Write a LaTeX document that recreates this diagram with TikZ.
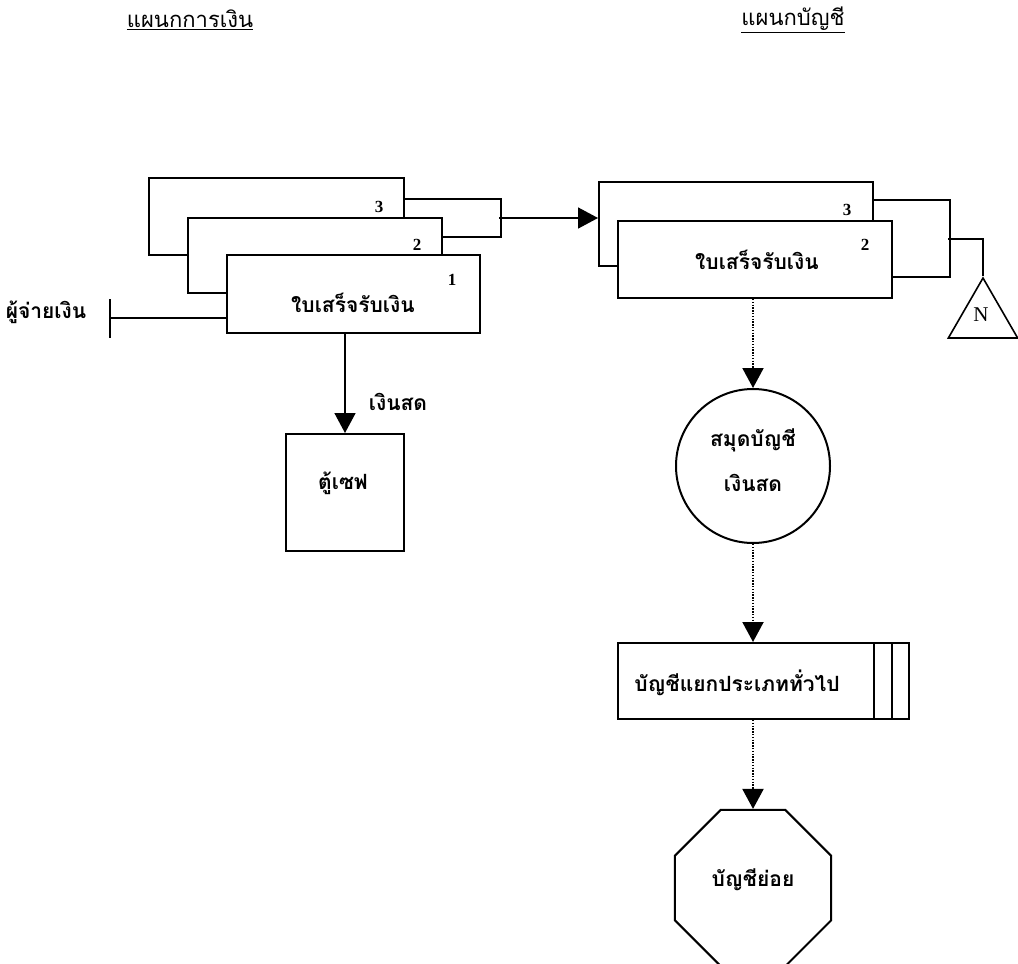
\documentclass[tikz,border=0pt]{standalone}
\usepackage{fontspec}
\newfontfamily\thaifont[Script=Thai]{Loma}
\newfontfamily\latinfont{Liberation Serif}
\usetikzlibrary{shapes.geometric, arrows.meta}

\tikzset{
  doc/.style={draw, line width=2pt, fill=white, inner sep=0pt, anchor=north west},
  num/.style={font=\latinfont\bfseries\fontsize{17}{17}\selectfont},
  txt/.style={font=\thaifont\bfseries\fontsize{21}{24}\selectfont},
  head/.style={font=\thaifont\fontsize{22}{24}\selectfont},
  wire/.style={line width=1.6pt},
  flow/.style={line width=1.6pt, -{Triangle[width=21pt,length=20pt]}},
  dflow/.style={line width=2pt, dash pattern=on 1.4pt off 1.4pt, -{Triangle[width=21pt,length=20pt]}}
}

\begin{document}
\begin{tikzpicture}[x=1pt,y=-1pt]
\useasboundingbox (0,0) rectangle (1018,964);

\node[head] (hfin) at (190,20) {\underline{แผนกการเงิน}};
\node[head] (hacc) at (793,20) {\underline{แผนกบัญชี}};

% finance copies
\node[doc, minimum width=255pt, minimum height=77pt] (ld3) at (148,177) {};
\node[num] (ln3) at ([xshift=-26pt,yshift=-30pt]ld3.north east) {3};
\node[doc, minimum width=254pt, minimum height=75pt] (ld2) at (187,217) {};
\node[num] (ln2) at ([xshift=-26pt,yshift=-28pt]ld2.north east) {2};
\node[doc, minimum width=253pt, minimum height=78pt] (ld1) at (226,254) {};
\node[num] (ln1) at ([xshift=-29pt,yshift=-26pt]ld1.north east) {1};
\node[txt] (lrct) at (353,303) {ใบเสร็จรับเงิน};

\draw[wire] ([yshift=-22pt]ld3.north east) -- ++(96,0) |- ([yshift=-20pt]ld2.north east);
\coordinate (lmid) at (499,218);

% payer
\node[txt] (payer) at (46,312) {ผู้จ่ายเงิน};
\coordinate (pay) at (110,318);
\draw[wire] ([yshift=19pt]pay) -- ([yshift=-20pt]pay);
\draw[wire] (pay) -- (pay -| ld1.west);

% safe
\node[draw, line width=2pt, anchor=north west, minimum width=118pt, minimum height=117pt, inner sep=0pt] (safe) at (285,433) {};
\node[txt] (safet) at (343,483) {ตู้เซฟ};
\draw[flow] (safe.north |- ld1.south) -- (safe.north);
\node[txt] (cash) at (398,402) {เงินสด};

% accounting copies
\node[doc, minimum width=274pt, minimum height=84pt] (rd3) at (598,181) {};
\node[num] (rn3) at ([xshift=-27pt,yshift=-29pt]rd3.north east) {3};
\node[doc, minimum width=274pt, minimum height=77pt] (rd2) at (617,220) {};
\node[num] (rn2) at ([xshift=-28pt,yshift=-25pt]rd2.north east) {2};
\node[txt] (rrct) at (757,260) {ใบเสร็จรับเงิน};

\draw[flow] (lmid) -- (lmid -| rd3.west);

\draw[wire] ([yshift=-19pt]rd3.north east) -- ++(76,0) |- ([yshift=-57pt]rd2.north east);
\coordinate (rmid) at (948,239);
\node[draw, regular polygon, regular polygon sides=3, minimum size=80pt, inner sep=0pt, line width=1.6pt] (file) at (983,318) {};
\node[font=\latinfont\fontsize{21}{21}\selectfont] (filet) at (981,315) {N};
\draw[wire] (rmid) -| (file.north);

% cash book
\node[draw, circle, line width=2pt, minimum size=154pt, inner sep=0pt] (book) at (753,466) {};
\node[txt, align=center, font=\thaifont\bfseries\fontsize{21}{45}\selectfont] (bookt) at (753,460) {สมุดบัญชี\\เงินสด};
\draw[dflow] (book.north |- rd2.south) -- (book.north);

% general ledger
\node[draw, line width=2pt, anchor=north west, minimum width=291pt, minimum height=76pt, inner sep=0pt] (gl) at (617,642) {};
\draw[line width=2pt] ([xshift=-36pt]gl.north east) -- ([xshift=-36pt]gl.south east);
\draw[line width=2pt] ([xshift=-18pt]gl.north east) -- ([xshift=-18pt]gl.south east);
\node[txt] (glt) at (737,683) {บัญชีแยกประเภททั่วไป};
\draw[dflow] (book.south) -- (book.south |- gl.north);

% subsidiary ledger
\node[draw, regular polygon, regular polygon sides=8, minimum size=169pt, inner sep=0pt, line width=2pt] (sub) at (753,888) {};
\node[txt] (subt) at (753,880) {บัญชีย่อย};
\draw[dflow] (sub.north |- gl.south) -- (sub.north);
\end{tikzpicture}
\end{document}
